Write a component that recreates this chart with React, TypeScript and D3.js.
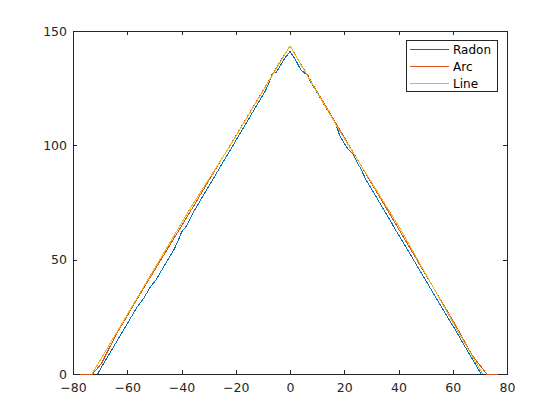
import { axisBottom, axisLeft, axisRight, axisTop, line, scaleLinear, select, type Selection } from 'd3';
import { useEffect, useRef } from 'react';

const WIDTH = 560;
const HEIGHT = 420;
const MARGIN = { top: 31, right: 53, bottom: 46, left: 73 };

const X_TICKS = [-80, -60, -40, -20, 0, 20, 40, 60, 80];
const Y_TICKS = [0, 50, 100, 150];

// Radon (blue)
const radonX = [
  -70.9, -69, -66.5, -64, -61.5, -59, -56.5, -54, -51.5, -49.5, -47, -44.5, -42.5, -41, -40, -38, -36, -33,
  -30.5, -28, -25.5, -23, -20.5, -18, -15.5, -13.3, -11, -9, -7.5, -6.5, -5, -3.5, -2, 0,
  2, 4, 5.5, 6.5, 7.5, 9.5, 12, 14.5, 17, 18.4, 21, 23.5, 24.5, 26, 28, 30.5, 33, 35.5, 37.5, 38.7, 41,
  43.5, 46, 48.5, 51, 53.5, 56, 58.5, 60.8, 63, 65.5, 68, 70.4,
];
const radonY = [
  0, 4, 9, 14, 19, 24, 29, 33, 38, 41, 46, 51, 55, 59, 62, 65, 70, 76,
  81, 86, 91, 96, 101, 106, 111, 115.4, 120, 124, 128, 131.5, 132, 135, 138, 141,
  137.5, 133, 131.5, 131, 128, 124, 119, 114, 109, 104, 99, 95.8, 93, 90, 85, 80, 75, 70, 66, 63.4, 59,
  54, 49, 44, 39, 34, 29, 24, 19.7, 15, 10, 5, 0,
];

// Arc (orange)
const arcX = [-77.5, -72.8, -69.5, -64, -55, -45, -35, -25, -15, -8, -4, -1, 0, 1, 4, 10, 20, 30, 40, 50, 60, 67, 72.5, 76.5];
const arcY = [0, 0, 4.6, 17.5, 35.5, 55, 74.5, 94.3, 114, 127.8, 136, 141.5, 143.5, 141.5, 135.5, 123.5, 103.5, 83.5, 63.5, 43.5, 23.5, 8.5, 0, 0];

// Line (yellow)
const lineX = [-73, -36.9, -22, 0, 18.3, 40.7, 62, 71];
const lineY = [0, 72.2, 100, 143.5, 106.3, 63.4, 18.5, 0];

const SERIES = [
  { name: 'Radon', color: '#0072BD', xs: radonX, ys: radonY },
  { name: 'Arc', color: '#D95319', xs: arcX, ys: arcY },
  { name: 'Line', color: '#EDB120', xs: lineX, ys: lineY },
];

const AXIS_COLOR = '#262626';
const FONT = '"DejaVu Sans", sans-serif';

export default function App() {
  const bottomRef = useRef<SVGGElement | null>(null);
  const leftRef = useRef<SVGGElement | null>(null);
  const topRef = useRef<SVGGElement | null>(null);
  const rightRef = useRef<SVGGElement | null>(null);

  const innerWidth = WIDTH - MARGIN.left - MARGIN.right;
  const innerHeight = HEIGHT - MARGIN.top - MARGIN.bottom;

  const xScale = scaleLinear().domain([-80, 80]).range([MARGIN.left, MARGIN.left + innerWidth]);
  const yScale = scaleLinear().domain([0, 150]).range([MARGIN.top + innerHeight, MARGIN.top]);

  useEffect(() => {
    const style = (g: Selection<SVGGElement, unknown, null, undefined>) => {
      g.select('.domain').attr('stroke', AXIS_COLOR).attr('stroke-width', 1).attr('shape-rendering', 'crispEdges');
      g.selectAll('line').attr('stroke', AXIS_COLOR).attr('shape-rendering', 'crispEdges');
      g.selectAll('text').attr('fill', AXIS_COLOR).attr('font-size', 12.5).attr('font-family', FONT);
    };

    if (bottomRef.current) {
      select(bottomRef.current)
        .attr('transform', `translate(0, ${MARGIN.top + innerHeight})`)
        .call(axisBottom(xScale).tickValues(X_TICKS).tickSizeInner(-4).tickSizeOuter(0).tickPadding(9))
        .call(style);
    }
    if (topRef.current) {
      select(topRef.current)
        .attr('transform', `translate(0, ${MARGIN.top})`)
        .call(axisTop(xScale).tickValues(X_TICKS).tickSizeInner(-4).tickSizeOuter(0).tickFormat(() => ''))
        .call(style);
    }
    if (leftRef.current) {
      select(leftRef.current)
        .attr('transform', `translate(${MARGIN.left}, 0)`)
        .call(axisLeft(yScale).tickValues(Y_TICKS).tickSizeInner(-4).tickSizeOuter(0).tickPadding(6))
        .call(style);
    }
    if (rightRef.current) {
      select(rightRef.current)
        .attr('transform', `translate(${MARGIN.left + innerWidth}, 0)`)
        .call(axisRight(yScale).tickValues(Y_TICKS).tickSizeInner(-4).tickSizeOuter(0).tickFormat(() => ''))
        .call(style);
    }
  }, [innerHeight, innerWidth, xScale, yScale]);

  const makePath = (xs: number[], ys: number[]) =>
    line<number>()
      .x((_, i) => xScale(xs[i]))
      .y((_, i) => yScale(ys[i]))(xs) ?? '';

  const legend = { x: 406, y: 40, w: 91, h: 51 };

  return (
    <svg
      width={WIDTH}
      height={HEIGHT}
      style={{ position: 'absolute', left: 0, top: 0, background: '#ffffff' }}
      fontFamily={FONT}
    >
      <rect x={0} y={0} width={WIDTH} height={HEIGHT} fill="#ffffff" />

      <g ref={bottomRef} />
      <g ref={topRef} />
      <g ref={leftRef} />
      <g ref={rightRef} />

      {/* series drawn over the axes, as in the original */}
      <g>
        {SERIES.map((s) => (
          <path
            key={s.name}
            d={makePath(s.xs, s.ys)}
            fill="none"
            stroke={s.color}
            strokeWidth={1}
            shapeRendering="crispEdges"
          />
        ))}
      </g>

      <g>
        <rect
          x={legend.x + 0.5}
          y={legend.y + 0.5}
          width={legend.w}
          height={legend.h}
          fill="#ffffff"
          stroke={AXIS_COLOR}
          strokeWidth={1}
          shapeRendering="crispEdges"
        />
        {SERIES.map((s, i) => {
          const cy = legend.y + 9.5 + i * 17;
          return (
            <g key={s.name}>
              <line
                x1={legend.x + 4}
                x2={legend.x + 43}
                y1={cy}
                y2={cy}
                stroke={s.color}
                strokeWidth={1}
                shapeRendering="crispEdges"
              />
              <text x={legend.x + 47} y={cy} dy="0.35em" fontSize={12} fill="#000000">
                {s.name}
              </text>
            </g>
          );
        })}
      </g>
    </svg>
  );
}
